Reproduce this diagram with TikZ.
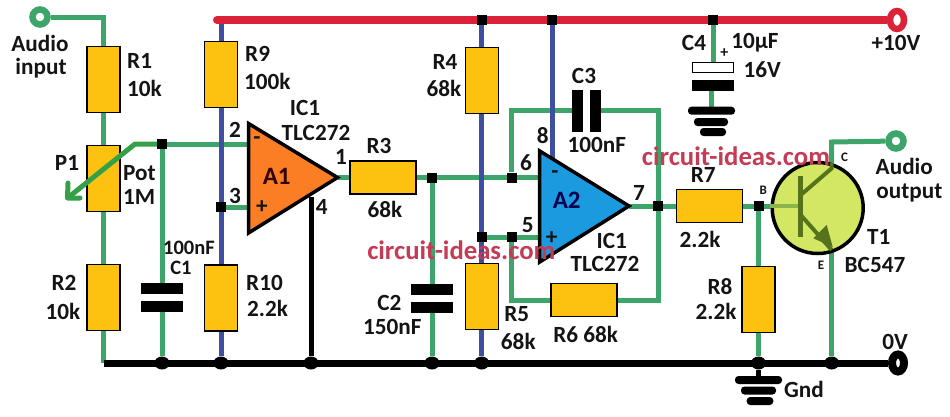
\documentclass[tikz,border=0pt]{standalone}
\usepackage{fontspec}
\setmainfont{Carlito}
\usetikzlibrary{shapes.geometric,backgrounds}
\definecolor{wgreen}{HTML}{3DA56A}
\definecolor{wblue}{HTML}{3F4FA0}
\definecolor{wred}{HTML}{DC2238}
\definecolor{resfill}{HTML}{FDC210}
\definecolor{aorange}{HTML}{FB7D24}
\definecolor{ablue}{HTML}{1C9AE0}
\definecolor{tfill}{HTML}{D3E765}
\definecolor{tdark}{HTML}{55731A}
\definecolor{tbase}{HTML}{8DB44A}
\definecolor{wiper}{HTML}{36A048}
\definecolor{wmark}{HTML}{C43B55}
\newcommand{\labfont}{\fontsize{23.2}{25}\selectfont\bfseries}
\newcommand{\midfont}{\fontsize{20.5}{22}\selectfont\bfseries}
\newcommand{\tinyfont}{\fontsize{13}{14}\selectfont\bfseries}
\newcommand{\markfont}{\fontsize{26.7}{28}\selectfont\bfseries}
\tikzset{
 vres/.style={draw=black,fill=resfill,line width=1.1pt,minimum width=33pt,minimum height=66pt,inner sep=0pt},
 hres/.style={draw=black,fill=resfill,line width=1.1pt,minimum width=66pt,minimum height=33pt,inner sep=0pt},
 lab/.style={font=\labfont,inner sep=0pt,text=black!92},
 lableft/.style={lab,anchor=west},
 midlab/.style={font=\midfont,inner sep=0pt,text=black!92},
 tinylab/.style={font=\tinyfont,inner sep=0pt,text=black!92},
 marklab/.style={font=\markfont,inner sep=0pt,text=wmark},
 junc/.style={fill=black,inner sep=0pt,minimum size=10pt},
 dotk/.style={ellipse,fill=black,inner sep=0pt,minimum width=15pt,minimum height=13pt},
 gw/.style={draw=wgreen,line width=5pt},
 bw/.style={draw=wblue,line width=5pt},
 kw/.style={draw=black,line width=5pt},
 hplate/.style={fill=black,inner sep=0pt,minimum width=42pt,minimum height=11pt},
 vplate/.style={fill=black,inner sep=0pt,minimum width=11pt,minimum height=42pt},
 gbar/.style={fill=black,inner sep=0pt,rounded corners=3.5pt,minimum height=8pt},
 ampline/.style={draw=black,line width=3.5pt},
 olive/.style={draw=tdark,line width=4pt}
}
\begin{document}
\begin{tikzpicture}[x=1pt,y=-1pt]
\useasboundingbox (0,0) rectangle (950,416);
% terminals
\node[circle,draw=wgreen,fill=white,line width=6.5pt,minimum size=15pt,inner sep=0pt] (tin) at (40,17) {};
\node[circle,draw=wgreen,fill=white,line width=6.5pt,minimum size=15pt,inner sep=0pt] (tout) at (896,141) {};
\node[ellipse,draw=wred,fill=white,line width=6.5pt,minimum width=14pt,minimum height=18pt,inner sep=0pt] (tplus) at (897,20) {};
\node[ellipse,draw=black,fill=white,line width=8pt,minimum width=12pt,minimum height=17pt,inner sep=0pt] (tzero) at (898,363) {};
% resistors
\node[vres] (R1) at (103.5,79.7) {};
\node[vres] (P1) at (103.5,178.8) {};
\node[vres] (R2) at (103.5,297.8) {};
\node[vres] (R9) at (221,74.8) {};
\node[vres] (R10) at (221,298) {};
\node[vres] (R4) at (481.7,80.8) {};
\node[vres] (R5) at (481.7,296.8) {};
\node[vres] (R8) at (758.5,299.8) {};
\node[hres] (R3) at (383,177.5) {};
\node[hres] (R6) at (584,300) {};
\node[hres] (R7) at (709.8,206) {};
% capacitors
\node[hplate] (C1a) at (162,288.3) {};
\node[hplate] (C1b) at (162,306.3) {};
\node[hplate] (C2a) at (432,289.8) {};
\node[hplate] (C2b) at (432,307.3) {};
\node[vplate] (C3a) at (577.7,110.5) {};
\node[vplate] (C3b) at (595.5,110.5) {};
\node[draw=black,fill=white,line width=1.1pt,inner sep=0pt,minimum width=41pt,minimum height=10pt] (C4a) at (713,67.7) {};
\node[hplate] (C4b) at (713,85.7) {};
% ground bars
\node[gbar,minimum width=47pt] (g1a) at (711.5,110.7) {};
\node[gbar,minimum width=34pt] (g1b) at (711,122) {};
\node[gbar,minimum width=26pt] (g1c) at (713,132) {};
\node[gbar,minimum width=47pt] (g2a) at (758.5,380) {};
\node[gbar,minimum width=35pt] (g2b) at (758.5,390.5) {};
\node[gbar,minimum width=26.6pt] (g2c) at (760,401) {};
% amplifiers
\coordinate (a1t) at (248.5,123.5);
\coordinate (a1b) at (248.5,233);
\coordinate (a1o) at (337.5,177.5);
\coordinate (a1m) at (248,144);
\coordinate (a1p) at (248,207);
\coordinate (a1v) at (311,197);
\coordinate (a2t) at (539.7,151);
\coordinate (a2b) at (539.7,262);
\coordinate (a2o) at (629,206);
\coordinate (a2m) at (540,177.5);
\coordinate (a2p) at (540,237);
\coordinate (a2v) at (552.3,158);
\path[ampline,fill=aorange] (a1t) -- (a1o) -- (a1b) -- cycle;
\path[ampline,fill=ablue] (a2t) -- (a2o) -- (a2b) -- cycle;
% junctions
\node[junc] (j1) at (162,144) {};
\node[junc] (j2) at (221,207) {};
\node[junc] (j3) at (432,177.5) {};
\node[junc] (j4) at (511.5,177.5) {};
\node[junc] (j5) at (481.7,237) {};
\node[junc] (j6) at (511.5,237) {};
\node[junc] (j7) at (658,206) {};
\node[junc] (j8) at (758.5,206) {};
\node[junc] (r1) at (481.7,20) {};
\node[junc] (r2) at (552.3,20) {};
\node[junc] (r3) at (713,20) {};
\node[dotk] (d1) at (162,363) {};
\node[dotk] (d2) at (221,363) {};
\node[dotk] (d3) at (311,363) {};
\node[dotk] (d4) at (432,363) {};
\node[dotk] (d5) at (481.7,363) {};
\node[dotk] (d6) at (758.5,363) {};
\node[dotk] (d7) at (831.7,363) {};
% coordinates
\coordinate (railL) at (217,20);
\coordinate (railB) at (221,20);
\coordinate (gndL) at (103.5,363);
\coordinate (w1) at (135,144);
\coordinate (w2) at (67.5,198);
\coordinate (w3) at (68,183);
\coordinate (w4) at (80,198);
% transistor
\node[circle,draw=black,fill=tfill,line width=3.5pt,minimum size=91pt,inner sep=0pt] (T1) at (817.7,208) {};
\coordinate (tb) at (800.7,206);
\coordinate (tbt) at (800.7,176);
\coordinate (tbb) at (800.7,236.7);
\coordinate (tc1) at (800.7,195);
\coordinate (tc2) at (831.7,168.3);
\coordinate (tc3) at (831.7,163);
\coordinate (te1) at (800.7,215);
\coordinate (te2) at (831.7,250);
\coordinate (ta1) at (832.7,247);
\coordinate (ta2) at (826.7,225);
\coordinate (ta3) at (813.3,238.3);
\coordinate (tcw) at (831.7,142);
\draw[line width=4pt,draw=tbase] (T1.west |- tb) -- (tb);
\draw[olive,line width=5pt] (tbt) -- (tbb);
\draw[olive] (tc1) -- (tc2) -- (tc3);
\draw[olive] (te1) -- (te2);
\fill[tdark] (ta1) -- (ta2) -- (ta3) -- cycle;
% wires
\begin{scope}[on background layer]
\draw[gw,line join=miter] (tin) -| (R1.north);
\draw[gw] (R1.south) -- (P1.north);
\draw[gw] (P1.south) -- (R2.north);
\draw[gw] (R2.south) -- (gndL);
\draw[gw] (j1) -- (C1a.north);
\draw[gw] (C1b.south) -- (d1);
\draw[gw] (j1) -- (a1m);
\draw[gw] (j2) -- (a1p);
\draw[gw] (a1o) -- (R3.west);
\draw[gw] (R3.east) -- (a2m);
\draw[gw] (j3) -- (C2a.north);
\draw[gw] (C2b.south) -- (d4);
\draw[gw,line join=miter] (j4) |- (C3a.west);
\draw[gw,line join=miter] (C3b.east) -| (j7);
\draw[gw] (a2o) -- (R7.west);
\draw[gw] (j5) -- (a2p);
\draw[gw,line join=miter] (j6) |- (R6.west);
\draw[gw,line join=miter] (R6.east) -| (j7);
\draw[gw] (R7.east) -- (T1.west |- j8);
\draw[gw] (j8) -- (R8.north);
\draw[gw] (R8.south) -- (d6);
\draw[gw] (r3) -- (C4a.north);
\draw[gw] (g1a.north) -- (g1a.north |- C4b.south);
\draw[gw,line join=miter] (tc3) -- (tcw) -- (tout);
\draw[gw] (d7) -- (te2);
\draw[bw] (r1) -- (R4.north);
\draw[bw] (R4.south) -- (R5.north);
\draw[bw] (R5.south) -- (d5);
\draw[bw] (r2) -- (a2v);
\draw[bw] (railB) -- (R9.north);
\draw[bw] (R9.south) -- (R10.north);
\draw[bw] (R10.south) -- (d2);
\draw[kw] (a1v) -- (d3);
\draw[kw] (d6) -- (g2a.north);
\draw[draw=wred,line width=8pt] (railL) -- (tplus);
\fill[wred] (railL) circle (4pt);
\draw[draw=black,line width=7pt] (gndL) -- (tzero);
\end{scope}
\draw[draw=wiper,line width=5pt,line join=round] (j1) -- (w1) -- (w2);
\draw[draw=wiper,line width=5pt,line cap=round,line join=round] (w3) -- (w2) -- (w4);
% labels
\node[lab] (l01) at (40,43) {Audio};
\node[lab] (l02) at (41,68) {input};
\node[lableft] (l03) at (127,61) {R1};
\node[lableft] (l04) at (127,88) {10k};
\node[lableft] (l05) at (245,54) {R9};
\node[lableft] (l06) at (244,81) {100k};
\node[lab] (l07) at (305,108) {IC1};
\node[lab] (l08) at (316,132.7) {TLC272};
\node[lab] (l09) at (235,130) {2};
\node[lab] (l10) at (235,195.7) {3};
\node[lab] (l11) at (341,156.7) {1};
\node[lab] (l12) at (321.7,206.7) {4};
\node[lab] (l13) at (257,141) {-};
\node[lab] (l14) at (262,207) {+};
\node[lab,font=\fontsize{25}{27}\selectfont\bfseries,text=black!80!red] (l15) at (276.7,176) {A1};
\node[lab] (l16) at (67,163) {P1};
\node[lableft] (l17) at (123,173) {Pot};
\node[lableft] (l18) at (123,197) {1M};
\node[lab] (l19) at (64,283) {R2};
\node[lab] (l20) at (63,311) {10k};
\node[midlab] (l21) at (189,247.7) {100nF};
\node[midlab] (l22) at (181,267.7) {C1};
\node[lableft] (l23) at (246,283) {R10};
\node[lableft] (l24) at (247,308) {2.2k};
\node[lab] (l25) at (379,145.7) {R3};
\node[lab] (l26) at (385,209) {68k};
\node[lab] (l27) at (445,61.7) {R4};
\node[lab] (l28) at (444,88) {68k};
\node[lab] (l29) at (584,76) {C3};
\node[lab] (l30) at (596.7,145) {100nF};
\node[lab] (l31) at (542.7,135.7) {8};
\node[lab] (l32) at (526,162.7) {6};
\node[lab] (l33) at (527.7,225.3) {5};
\node[lab] (l34) at (639,193) {7};
\node[lab] (l35) at (555,175) {-};
\node[lab] (l36) at (551.7,237.7) {+};
\node[lab,font=\fontsize{25}{27}\selectfont\bfseries,text=black!70!blue] (l37) at (566.7,200) {A2};
\node[lab] (l38) at (611.7,241) {IC1};
\node[lab] (l39) at (605,264.3) {TLC272};
\node[lab] (l40) at (389.3,302.7) {C2};
\node[lab] (l41) at (392.3,327) {150nF};
\node[lab] (l42) at (516.7,314.3) {R5};
\node[lab] (l43) at (518.3,341.7) {68k};
\node[lab] (l44) at (585.7,334.3) {R6 68k};
\node[lab] (l45) at (694,43.3) {C4};
\node[lab] (l46) at (755,43) {10µF};
\node[tinylab,font=\fontsize{16}{16}\selectfont\bfseries] (l47) at (724.3,52.7) {+};
\node[lab] (l48) at (762.3,70) {16V};
\node[lab] (l49) at (896,43.3) {+10V};
\node[tinylab] (l50) at (844.5,157) {C};
\node[tinylab] (l51) at (763.3,190) {B};
\node[tinylab] (l52) at (821,265.3) {E};
\node[lab] (l53) at (904.3,166.7) {Audio};
\node[lab] (l54) at (909.3,192.7) {output};
\node[lab] (l55) at (878.7,236.7) {T1};
\node[lab] (l56) at (875,265) {BC547};
\node[lab] (l57) at (703.3,175) {R7};
\node[lab] (l58) at (700,239.3) {2.2k};
\node[lab] (l59) at (720,286.7) {R8};
\node[lab] (l60) at (716,311) {2.2k};
\node[lab] (l61) at (895,341.7) {0V};
\node[lab] (l62) at (804,389.3) {Gnd};
\node[marklab] (m1) at (461.3,250) {circuit-ideas.com};
\node[marklab] (m2) at (736,156) {circuit-ideas.com};
\end{tikzpicture}
\end{document}
